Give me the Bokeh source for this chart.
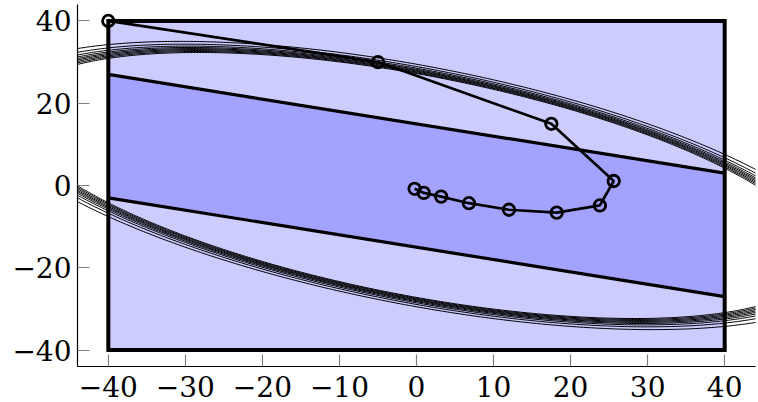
import numpy as np
from bokeh.plotting import figure
from bokeh.models import Range1d, FixedTicker
from bokeh.embed import file_html
from bokeh.resources import INLINE

# ---------------- data ----------------
box_x = [-40, 40, 40, -40]
box_y = [-40, -40, 40, 40]

band_x = [-40, 40, 40, -40]
band_y = [27, 3, -27, -3]
band_top_x = [-40, 40]
band_top_y = [27, 3]
band_bot_x = [-40, 40]
band_bot_y = [-3, -27]

traj_x = [-40, -5, 17.5, 25.6, 23.8, 18.2, 12.0, 6.8, 3.2, 0.95, -0.25]
traj_y = [40, 30, 15, 1.1, -4.85, -6.6, -5.9, -4.3, -2.7, -1.8, -0.8]

# contour ellipses: a*x^2 + 2*b*x*y + c*y^2 = s^2
ell_a = 0.00047297
ell_b = 0.00041378
ell_c = 0.0012398
ell_scale = [0.958, 0.965, 0.972, 0.979, 0.986, 0.994, 1.004, 1.018, 1.038]

x_ticks = [-40, -30, -20, -10, 0, 10, 20, 30, 40]
y_ticks = [-40, -20, 0, 20, 40]

# ---------------- figure ----------------
p = figure(width=758, height=402, output_backend="svg", toolbar_location=None,
           x_range=Range1d(-44, 44), y_range=Range1d(-44, 44),
           min_border_left=77, min_border_right=3, min_border_top=4,
           min_border_bottom=36)
p.outline_line_color = None
p.grid.visible = False
p.background_fill_color = "white"
p.border_fill_color = "white"

p.patch(box_x, box_y, fill_color="#ccccff", line_color=None)
p.patch(band_x, band_y, fill_color="#a3a3ff", line_color=None)
p.line(band_top_x, band_top_y, line_color="black", line_width=3.2)
p.line(band_bot_x, band_bot_y, line_color="black", line_width=3.2)

M = np.array([[ell_a, ell_b], [ell_b, ell_c]])
vals, vecs = np.linalg.eigh(M)
t = np.linspace(0, 2 * np.pi, 720)
xs, ys = [], []
for s in ell_scale:
    u = s / np.sqrt(vals[0]) * np.cos(t)
    v = s / np.sqrt(vals[1]) * np.sin(t)
    pts = vecs @ np.vstack([u, v])
    xs.append(pts[0].tolist())
    ys.append(pts[1].tolist())
p.multi_line(xs, ys, line_color="black", line_width=1.0)

p.patch(box_x, box_y, fill_alpha=0, line_color="black", line_width=4,
        line_join="miter")

p.line(traj_x, traj_y, line_color="black", line_width=2.7)
p.scatter(traj_x, traj_y, marker="circle", size=11.5, fill_alpha=0,
          line_color="black", line_width=2.8)

for ax, ticks in ((p.xaxis[0], x_ticks), (p.yaxis[0], y_ticks)):
    ax.ticker = FixedTicker(ticks=ticks)
    ax.minor_tick_line_color = None
    ax.major_tick_in = 12
    ax.major_tick_out = 0
    ax.major_tick_line_color = "#808080"
    ax.major_tick_line_width = 1.2
    ax.axis_line_color = "black"
    ax.axis_line_width = 1.2
    ax.major_label_text_color = "black"
    ax.major_label_text_font = "DejaVu Serif"
    ax.major_label_text_font_size = "28px"
    ax.major_label_overrides = {v: (("\u2212" + str(-v)) if v < 0 else str(v)) for v in ticks}

p.xaxis.major_label_standoff = 9
p.yaxis.major_label_standoff = 6

open("out.html", "w").write(file_html(p, INLINE))
